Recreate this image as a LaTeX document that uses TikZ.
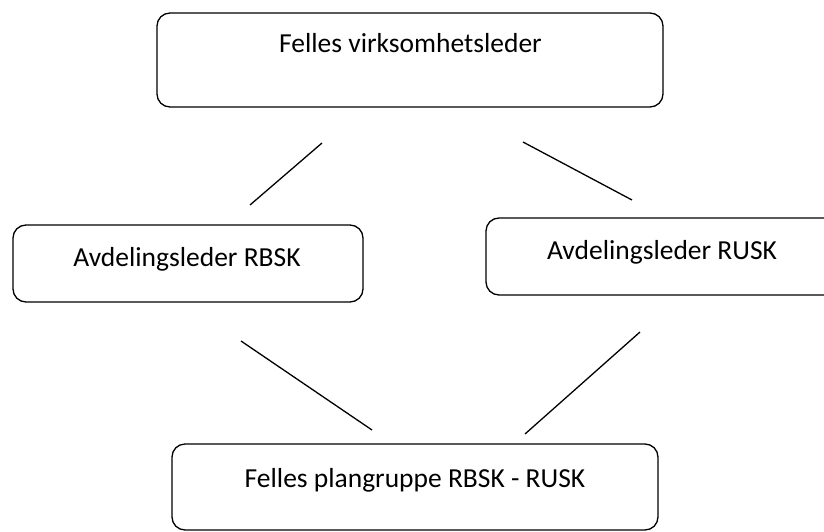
\documentclass[tikz,border=0pt]{standalone}
\usepackage{fontspec}
\setmainfont{Carlito}
\usetikzlibrary{positioning}

\tikzset{
  orgbox/.style={draw,line width=1.3pt,rounded corners=13pt,inner sep=0pt},
  orgtext/.style={font=\fontsize{27.5}{33}\selectfont,inner sep=0pt,anchor=base},
  link/.style={line width=1.3pt}
}

\begin{document}
\begin{tikzpicture}[x=1pt,y=-1pt]
\useasboundingbox (0,0) rectangle (824,532);

% boxes
\node[orgbox,minimum width=506pt,minimum height=94pt] (leder) at (410,60) {};
\node[orgbox,minimum width=350pt,minimum height=77pt] (rbsk) at (188,263.5) {};
\node[orgbox,minimum width=352pt,minimum height=77pt] (rusk) at (662,256.5) {};
\node[orgbox,minimum width=486pt,minimum height=86pt] (plan) at (415,487) {};

% texts
\node[orgtext] (ledertxt) at (410.5,53) {Felles virksomhetsleder};
\node[orgtext] (rbsktxt) at (187,266) {Avdelingsleder RBSK};
\node[orgtext] (rusktxt) at (662,259.5) {Avdelingsleder RUSK};
\node[orgtext] (plantxt) at (415,487) {Felles plangruppe RBSK - RUSK};

% free line ends
\coordinate (l1a) at (322,143);
\coordinate (l1b) at (250,205);
\coordinate (l2a) at (523,142);
\coordinate (l2b) at (632,200);
\coordinate (l3a) at (241,341);
\coordinate (l3b) at (372,430);
\coordinate (l4a) at (640,332);
\coordinate (l4b) at (525,434);

\draw[link] (l1a) -- (l1b);
\draw[link] (l2a) -- (l2b);
\draw[link] (l3a) -- (l3b);
\draw[link] (l4a) -- (l4b);
\end{tikzpicture}
\end{document}
